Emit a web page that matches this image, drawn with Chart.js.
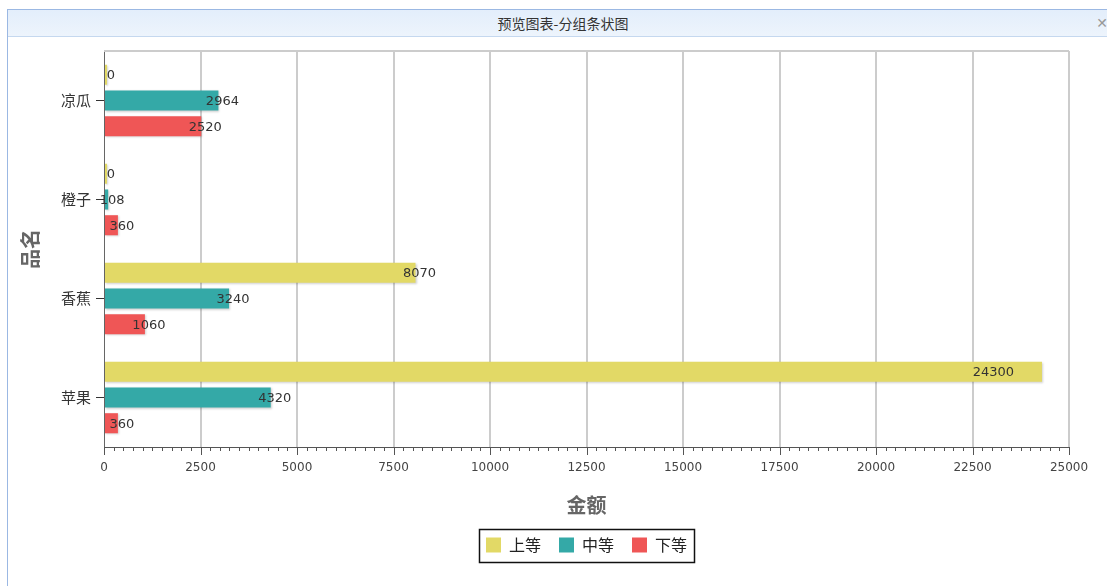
<!DOCTYPE html>
<html>
<head>
<meta charset="utf-8">
<script src="https://cdn.jsdelivr.net/npm/chart.js@4/dist/chart.umd.min.js"></script>
<style>
  html, body { margin: 0; padding: 0; background: #fff; }
  body { width: 1107px; height: 586px; position: relative; overflow: hidden; font-family: "Noto Sans CJK SC", sans-serif; }
  .frame { position: absolute; left: 7px; top: 9px; width: 1110px; height: 600px; border: 1px solid #9bb8e3; border-right: none; }
  .titlebar { position: absolute; left: 0; top: 0; right: 0; height: 26px; background: linear-gradient(#e3eefb, #edf4fc); border-bottom: 1px solid #c5d8ef; text-align: center; font-size: 14px; line-height: 26px; color: #333; }
  .titlebar .x { position: absolute; right: 10px; top: 0; color: #999; font-family: "DejaVu Sans", sans-serif; font-size: 14px; }
  .wrap { position: absolute; left: 8px; top: 37px; width: 1099px; height: 549px; }
</style>
</head>
<body>
<div class="frame">
  <div class="titlebar">预览图表-分组条状图<span class="x">✕</span></div>
</div>
<div class="wrap"><canvas id="chart"></canvas></div>
<script>
'use strict';

const categories = ['凉瓜', '橙子', '香蕉', '苹果'];
const seriesNames = ['上等', '中等', '下等'];
const topGrade = [0, 0, 8070, 24300];
const midGrade = [2964, 108, 3240, 4320];
const lowGrade = [2520, 360, 1060, 360];
const colors = ['#e2d966', '#34a9a7', '#ef5656'];

let canvasElem = document.getElementById('chart');

// value labels next to bar ends, ticks and frame lines
const extras = {
    id: 'extras',
    afterLayout(chart) {
        // center the legend under the plot area
        const lg = chart.legend;
        lg.left = chart.chartArea.left;
        lg.right = chart.chartArea.right;
        lg.width = lg.right - lg.left;
    },
    beforeDatasetsDraw(chart) {
        const ctx = chart.ctx;
        ctx.save();
        ctx.shadowColor = 'rgba(0,0,0,0.18)';
        ctx.shadowBlur = 2;
        ctx.shadowOffsetX = 1;
        ctx.shadowOffsetY = 1;
    },
    afterDatasetsDraw(chart) {
        const ctx = chart.ctx;
        ctx.restore();
        const area = chart.chartArea;
        ctx.save();
        ctx.font = '13px "DejaVu Sans", sans-serif';
        ctx.fillStyle = '#333';
        ctx.textBaseline = 'middle';
        chart.data.datasets.forEach((ds, i) => {
            const meta = chart.getDatasetMeta(i);
            meta.data.forEach((bar, j) => {
                const txt = String(ds.data[j]);
                const w = ctx.measureText(txt).width;
                let x = bar.x + 4 - w / 2;
                if (x + w > area.right - 25) x = bar.x - 28 - w;
                ctx.textAlign = 'left';
                ctx.fillText(txt, x, bar.y + 1);
            });
        });
        ctx.restore();
    },
    afterDraw(chart) {
        const ctx = chart.ctx;
        const area = chart.chartArea;
        const xs = chart.scales.x;
        ctx.save();
        // top border
        ctx.strokeStyle = '#cccccc';
        ctx.lineWidth = 2;
        ctx.beginPath();
        ctx.moveTo(area.left, area.top);
        ctx.lineTo(area.right, area.top);
        ctx.stroke();
        // x ticks, long ones at labelled values
        ctx.strokeStyle = '#555';
        ctx.lineWidth = 1;
        xs.ticks.forEach(t => {
            const px = Math.round(xs.getPixelForValue(t.value)) + 0.5;
            const len = t.value % 2500 === 0 ? 8 : 4;
            ctx.beginPath();
            ctx.moveTo(px, area.bottom);
            ctx.lineTo(px, area.bottom + len);
            ctx.stroke();
        });
        // legend border
        const boxes = chart.legend.legendHitBoxes;
        if (boxes && boxes.length) {
            const l = Math.min(...boxes.map(b => b.left)) - 7;
            const r = Math.max(...boxes.map(b => b.left + b.width)) + 7;
            const t = boxes[0].top - 8;
            const h = boxes[0].height + 17;
            ctx.strokeStyle = '#111';
            ctx.lineWidth = 1.5;
            ctx.strokeRect(Math.round(l) + 0.5, Math.round(t) + 0.5, Math.round(r - l), Math.round(h));
        }
        ctx.restore();
    }
};

function renderChart() {
    const values = [topGrade, midGrade, lowGrade];
    const datasets = [];
    for (let i = 0; i < seriesNames.length; i++) {
        datasets.push({
            label: seriesNames[i],
            data: values[i],
            backgroundColor: colors[i],
            borderWidth: 0,
            minBarLength: 3,
            categoryPercentage: 0.78,
            barPercentage: 0.78
        });
    }
    let chart = {
        type: 'bar',
        data: {
            labels: categories,
            datasets: datasets
        },
        options: {
            indexAxis: 'y',
            responsive: true,
            maintainAspectRatio: false,
            animation: false,
            layout: { padding: { left: 10, right: 38, top: 13, bottom: 23 } },
            scales: {
                x: {
                    min: 0,
                    max: 25000,
                    ticks: {
                        stepSize: 250,
                        autoSkip: false,
                        maxRotation: 0,
                        color: '#444',
                        font: { family: '"DejaVu Sans", sans-serif', size: 12 },
                        padding: 14,
                        callback: v => (v % 2500 === 0 ? v : '')
                    },
                    grid: {
                        drawTicks: false,
                        lineWidth: 2,
                        color: c => (c.tick && c.tick.value % 2500 === 0 && c.tick.value > 0 ? '#cccccc' : 'rgba(0,0,0,0)')
                    },
                    border: { color: '#555', width: 1 },
                    title: {
                        display: true,
                        text: '金额',
                        color: '#666',
                        font: { family: '"Noto Sans CJK SC", sans-serif', size: 20, weight: 'bold' },
                        padding: { top: 0, bottom: 2 }
                    },
                    afterFit: s => { s.height = 72; }
                },
                y: {
                    ticks: {
                        color: '#333',
                        font: { family: '"Noto Sans CJK SC", sans-serif', size: 15 },
                        padding: 5
                    },
                    grid: {
                        offset: false,
                        drawOnChartArea: false,
                        tickLength: 8,
                        tickColor: '#333'
                    },
                    border: { color: '#666', width: 1 },
                    title: {
                        display: true,
                        text: '品名',
                        color: '#666',
                        font: { family: '"Noto Sans CJK SC", sans-serif', size: 20, weight: 'bold' },
                        padding: { top: 0, bottom: 10 }
                    },
                    afterFit: s => { s.width = 86; }
                }
            },
            plugins: {
                legend: {
                    position: 'bottom',
                    labels: {
                        boxWidth: 15,
                        boxHeight: 15,
                        padding: 18,
                        color: '#222',
                        font: { family: '"Noto Sans CJK SC", sans-serif', size: 16 }
                    }
                },
                tooltip: { enabled: false }
            }
        },
        plugins: [extras]
    };
    new Chart(canvasElem, chart);
}

renderChart();
</script>
</body>
</html>
